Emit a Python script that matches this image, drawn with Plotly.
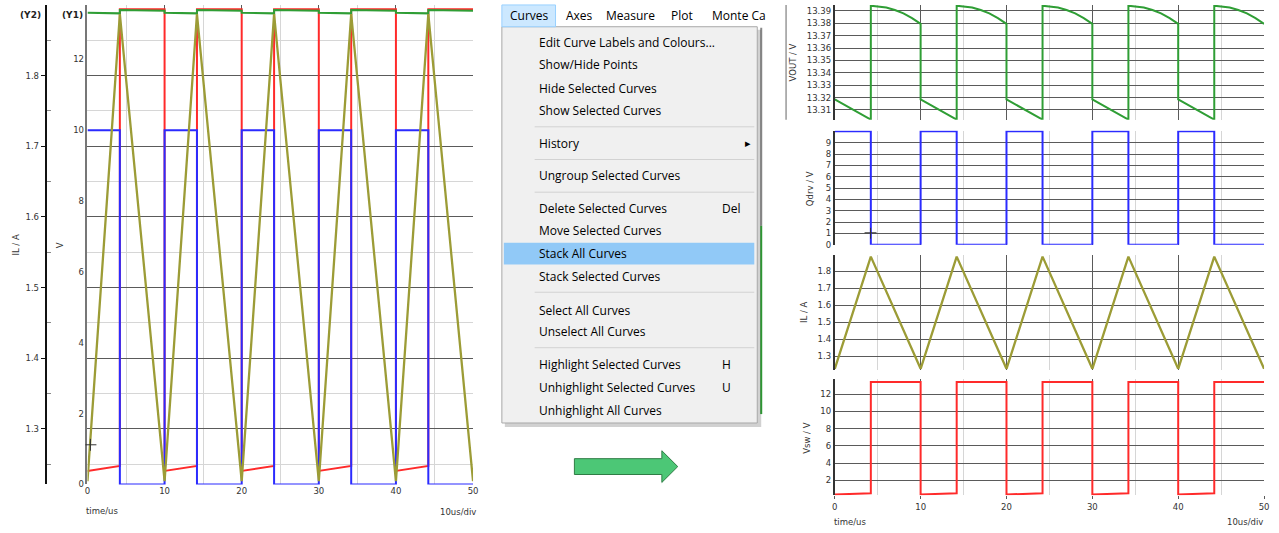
import plotly.graph_objects as go

W, H = 1279, 533

# ---------------- data ----------------
time_sw = [0, 4.2, 4.2, 10, 10, 14.2, 14.2, 20, 20, 24.2, 24.2, 30, 30, 34.2, 34.2, 40, 40, 44.2, 44.2, 50]
vsw = [0.38, 0.52, 13.42, 13.42, 0.38, 0.52, 13.42, 13.42, 0.38, 0.52, 13.42, 13.42,
       0.38, 0.52, 13.42, 13.42, 0.38, 0.52, 13.42, 13.42]
qdrv = [10, 10, 0, 0, 10, 10, 0, 0, 10, 10, 0, 0, 10, 10, 0, 0, 10, 10, 0, 0]

time_il = [0, 4.2, 10, 14.2, 20, 24.2, 30, 34.2, 40, 44.2, 50]
il = [1.226, 1.887, 1.226, 1.887, 1.226, 1.887, 1.226, 1.887, 1.226, 1.887, 1.226]

time_vout = [0, 4.2, 4.2, 5, 6, 7, 8, 9, 10,
             10, 14.2, 14.2, 15, 16, 17, 18, 19, 20,
             20, 24.2, 24.2, 25, 26, 27, 28, 29, 30,
             30, 34.2, 34.2, 35, 36, 37, 38, 39, 40,
             40, 44.2, 44.2, 45, 46, 47, 48, 49, 50]
vout = [13.3185, 13.3022, 13.3942, 13.3938, 13.3927, 13.3907, 13.3880, 13.3842, 13.3795,
        13.3185, 13.3022, 13.3942, 13.3938, 13.3927, 13.3907, 13.3880, 13.3842, 13.3795,
        13.3185, 13.3022, 13.3942, 13.3938, 13.3927, 13.3907, 13.3880, 13.3842, 13.3795,
        13.3185, 13.3022, 13.3942, 13.3938, 13.3927, 13.3907, 13.3880, 13.3842, 13.3795,
        13.3185, 13.3022, 13.3942, 13.3938, 13.3927, 13.3907, 13.3880, 13.3842, 13.3795]

time_ticks = [0, 10, 20, 30, 40, 50]
time_minor = [5, 15, 25, 35, 45]
y1_ticks = [0, 2, 4, 6, 8, 10, 12]
y2_ticks = [1.3, 1.4, 1.5, 1.6, 1.7, 1.8]
y2_minor = [1.25, 1.35, 1.45, 1.55, 1.65, 1.75, 1.85]
vout_ticks = [13.31, 13.32, 13.33, 13.34, 13.35, 13.36, 13.37, 13.38, 13.39]
qdrv_ticks = [0, 1, 2, 3, 4, 5, 6, 7, 8, 9]
il_ticks = [1.3, 1.4, 1.5, 1.6, 1.7, 1.8]
vsw_ticks = [2, 4, 6, 8, 10, 12]

menu_items = ["Edit Curve Labels and Colours...", "Show/Hide Points", "Hide Selected Curves",
              "Show Selected Curves", "History", "Ungroup Selected Curves",
              "Delete Selected Curves", "Move Selected Curves", "Stack All Curves",
              "Stack Selected Curves", "Select All Curves", "Unselect All Curves",
              "Highlight Selected Curves", "Unhighlight Selected Curves", "Unhighlight All Curves"]
menu_item_y = [43, 65, 89, 112, 145, 177, 210, 233, 256, 279, 313, 335, 368, 391, 414]
menu_shortcuts = {"Delete Selected Curves": "Del", "Highlight Selected Curves": "H",
                  "Unhighlight Selected Curves": "U"}
menubar_labels = ["Curves", "Axes", "Measure", "Plot", "Monte Ca"]
menubar_x = [508, 565, 605, 670, 711]

# ---------------- styles ----------------
RED, BLUE, OLIVE, GREEN = "#ff2a2a", "#2b2bff", "#9c9c36", "#2f9e35"
GRID, MINOR = "#5a5a5a", "#d6d6d6"
FONT = "DejaVu Sans"
MENUFONT = "Open Sans"


def px(x):
    return x / W


def py(y):
    return 1 - y / H


fig = go.Figure()

# left (overlaid) chart
fig.add_trace(go.Scatter(x=time_sw, y=vsw, mode="lines", line=dict(color=RED, width=2), xaxis="x", yaxis="y"))
fig.add_trace(go.Scatter(x=time_sw, y=qdrv, mode="lines", line=dict(color=BLUE, width=2), xaxis="x", yaxis="y"))
fig.add_trace(go.Scatter(x=time_vout, y=vout, mode="lines", line=dict(color=GREEN, width=2), xaxis="x", yaxis="y"))
fig.add_trace(go.Scatter(x=time_il, y=il, mode="lines", line=dict(color=OLIVE, width=2.3), xaxis="x", yaxis="y2"))

# right (stacked) chart
fig.add_trace(go.Scatter(x=time_vout, y=vout, mode="lines", line=dict(color=GREEN, width=2), xaxis="x2", yaxis="y3"))
fig.add_trace(go.Scatter(x=time_sw, y=qdrv, mode="lines", line=dict(color=BLUE, width=2), xaxis="x2", yaxis="y4"))
fig.add_trace(go.Scatter(x=time_il, y=il, mode="lines", line=dict(color=OLIVE, width=2.3), xaxis="x2", yaxis="y5"))
fig.add_trace(go.Scatter(x=time_sw, y=vsw, mode="lines", line=dict(color=RED, width=2), xaxis="x2", yaxis="y6"))

tickfont = dict(family=FONT, size=8.5, color="#333")

xcommon = dict(range=[0, 50], tickmode="array", tickvals=time_ticks, showgrid=True, gridcolor=GRID,
               gridwidth=1, zeroline=False, showline=False, tickfont=tickfont,
               minor=dict(tickvals=time_minor, showgrid=True, gridcolor=MINOR, gridwidth=1))

ycommon = dict(showgrid=True, gridcolor=GRID, gridwidth=1, zeroline=False, showline=True,
               linecolor="#333", linewidth=2, tickfont=tickfont, ticks="", anchor="x2")

fig.update_layout(
    width=W, height=H, margin=dict(l=0, r=0, t=0, b=0),
    paper_bgcolor="white", plot_bgcolor="white", showlegend=False, hovermode=False,
    xaxis=dict(domain=[px(85), px(473)], anchor="y", ticks="", **xcommon),
    yaxis=dict(domain=[py(489), py(5)], anchor="x", range=[0, 13.54], tickmode="array",
               tickvals=y1_ticks, showgrid=False, zeroline=False, showline=True,
               linecolor="#777", linewidth=1.5, ticks="", tickfont=tickfont),
    yaxis2=dict(overlaying="y", anchor="free", position=px(43), side="left",
                range=[1.2215, 1.9], tickmode="array", tickvals=y2_ticks,
                showgrid=True, gridcolor=GRID, gridwidth=1, zeroline=False,
                showline=True, linecolor="#111", linewidth=2,
                ticks="outside", ticklen=4, tickcolor="#111", tickfont=tickfont,
                minor=dict(tickvals=y2_minor, showgrid=True, gridcolor=MINOR,
                           ticks="inside", ticklen=4, tickcolor="#888")),
    xaxis2=dict(domain=[px(837), px(1269)], anchor="y6", ticks="outside", ticklen=3,
                tickcolor=GRID, **xcommon),
    yaxis3=dict(domain=[py(121), py(5)], range=[13.302, 13.3948], tickmode="array",
                tickvals=vout_ticks, **ycommon),
    yaxis4=dict(domain=[py(247), py(132)], range=[0, 10.05], tickmode="array",
                tickvals=qdrv_ticks, **ycommon),
    yaxis5=dict(domain=[py(373), py(257)], range=[1.222, 1.899], tickmode="array",
                tickvals=il_ticks, **ycommon),
    yaxis6=dict(domain=[py(500), py(383)], range=[0.28, 13.72], tickmode="array",
                tickvals=vsw_ticks, **ycommon),
)

shapes = []
annos = []


def pline(x0, y0, x1, y1, color, width=1):
    shapes.append(dict(type="line", xref="paper", yref="paper", x0=px(x0), y0=py(y0),
                       x1=px(x1), y1=py(y1), line=dict(color=color, width=width)))


def prect(x0, y0, x1, y1, fill, line=None, lw=1, layer="above"):
    shapes.append(dict(type="rect", xref="paper", yref="paper", x0=px(x0), y0=py(y0),
                       x1=px(x1), y1=py(y1), fillcolor=fill,
                       line=dict(color=line if line else fill, width=lw if line else 0),
                       layer=layer))


def text(x, y, s, size=8.5, color="#333", anchor="center", angle=0, family=FONT, bold=False):
    annos.append(dict(x=px(x), y=py(y), xref="paper", yref="paper", text=("<b>%s</b>" % s) if bold else s,
                      showarrow=False, xanchor=anchor, yanchor="middle", textangle=angle,
                      font=dict(family=family, size=size, color=color)))


# left chart labels
text(28, 15, "(Y2)", size=9, color="#222", bold=True)
text(70, 15, "(Y1)", size=9, color="#222", bold=True)
text(13, 247, "IL / A", angle=-90)
text(57, 248, "V", angle=-90)
text(100, 516, "time/us")
text(458, 517, "10us/div")
# cursors
pline(83, 449, 94, 449, "#333", 1)
pline(88, 443, 88, 455, "#333", 1)
pline(867, 235, 879, 235, "#333", 1)
pline(873, 230, 873, 241, "#333", 1)

# right chart labels
text(795, 63, "VOUT / V", angle=-90)
text(812, 190, "Qdrv / V", angle=-90)
text(806, 315, "IL / A", angle=-90)
text(809, 442, "Vsw / V", angle=-90)
text(852, 527, "time/us")
text(1250, 527, "10us/div")
pline(788, 5, 788, 121, "#999", 1.5)

# pieces of the window behind the menu
pline(763, 28, 763, 228, "#8a8a8a", 2)
pline(763, 228, 763, 418, GREEN, 2)

# menu
prect(505, 30, 763, 431, "rgba(0,0,0,0.18)")
prect(502, 27, 759, 427, "#f0f0f0", "#a8a8a8", 1)
prect(502, 5, 556, 27, "#cce8ff", "#99d1ff", 1)
prect(504, 245, 756, 267, "#91c9f7")
for sy in [128, 161, 194, 295, 351]:
    pline(535, sy, 756, sy, "#d2d2d2", 1)
for lab, lx in zip(menubar_labels, menubar_x):
    text(lx, 16, lab, size=12, color="#000", anchor="left", family=MENUFONT)
for item, iy in zip(menu_items, menu_item_y):
    text(537, iy, item, size=12, color="#000", anchor="left", family=MENUFONT)
    if item in menu_shortcuts:
        text(722, iy, menu_shortcuts[item], size=12, color="#000", anchor="left", family=MENUFONT)
text(750, 144, "\u25B8", size=11, color="#000", anchor="center", family=MENUFONT)

# green arrow
pts = [(575, 463), (663, 463), (663, 455), (679, 471), (663, 487), (663, 479), (575, 479)]
path = "M " + " L ".join("%f,%f" % (px(a), py(b)) for a, b in pts) + " Z"
shapes.append(dict(type="path", xref="paper", yref="paper", path=path,
                   fillcolor="#4cc776", line=dict(color="#2f7d45", width=1)))

fig.update_layout(shapes=shapes, annotations=annos)

post = ("document.documentElement.style.margin='0';document.documentElement.style.overflow='hidden';"
        "document.body.style.margin='0';document.body.style.padding='0';document.body.style.overflow='hidden';"
        "var g=document.querySelector('.plotly-graph-div');"
        "if(g){g.style.position='fixed';g.style.left='0px';g.style.top='0px';}")
fig.write_html("out.html", config={"displayModeBar": False}, post_script=post)
